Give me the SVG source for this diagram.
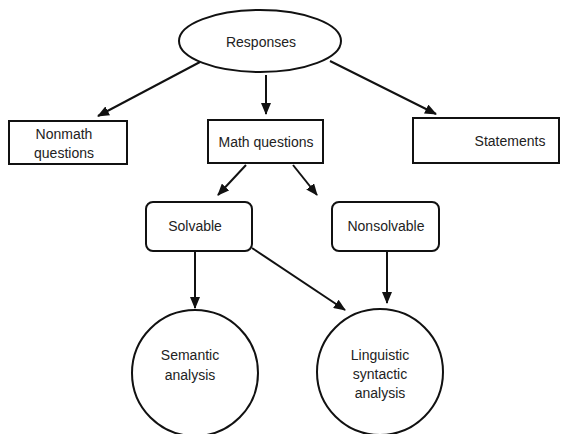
<svg xmlns="http://www.w3.org/2000/svg" width="563" height="434" viewBox="0 0 563 434">
<style>
.n{fill:#fff;stroke:#111;stroke-width:2}
.t{font-family:"Liberation Sans",Arial,sans-serif;font-size:14px;fill:#222;text-anchor:middle}
.c line{stroke:#111;stroke-width:2;marker-end:url(#a)}
</style>
<defs>
<marker id="a" markerWidth="12" markerHeight="10" refX="11" refY="5" orient="auto" markerUnits="userSpaceOnUse">
<path d="M0,0 L12,5 L0,10 z" fill="#111"/>
</marker>
</defs>
<rect width="563" height="434" fill="#fff"/>
<g id="connectors" class="c">
<line x1="200" y1="62" x2="98" y2="116"/>
<line x1="266" y1="75" x2="266" y2="114"/>
<line x1="330" y1="61" x2="436" y2="114"/>
<line x1="246" y1="165" x2="218" y2="195"/>
<line x1="293" y1="165" x2="317" y2="195"/>
<line x1="195" y1="251" x2="195" y2="308"/>
<line x1="252" y1="248" x2="345" y2="310"/>
<line x1="387" y1="251" x2="387" y2="303"/>
</g>
<g id="responses"><ellipse class="n" cx="260" cy="41" rx="81" ry="31"/><text class="t" x="261" y="47">Responses</text></g>
<g id="nonmath"><rect class="n" x="9" y="121" width="118" height="43"/><text class="t" x="64" y="139">Nonmath</text><text class="t" x="64" y="158">questions</text></g>
<g id="math"><rect class="n" x="208" y="120" width="115" height="43"/><text class="t" x="266" y="147">Math questions</text></g>
<g id="statements"><rect class="n" x="413" y="118" width="146" height="45"/><text class="t" x="510" y="146">Statements</text></g>
<g id="solvable"><rect class="n" x="146" y="202" width="106" height="49" rx="7"/><text class="t" x="195" y="231">Solvable</text></g>
<g id="nonsolvable"><rect class="n" x="332" y="202" width="107" height="49" rx="7"/><text class="t" x="386" y="231">Nonsolvable</text></g>
<g id="semantic"><circle class="n" cx="195" cy="373" r="63"/><text class="t" x="190" y="360">Semantic</text><text class="t" x="190" y="380">analysis</text></g>
<g id="linguistic"><circle class="n" cx="380" cy="372" r="63"/><text class="t" x="380" y="360">Linguistic</text><text class="t" x="380" y="379">syntactic</text><text class="t" x="380" y="398">analysis</text></g>
</svg>
